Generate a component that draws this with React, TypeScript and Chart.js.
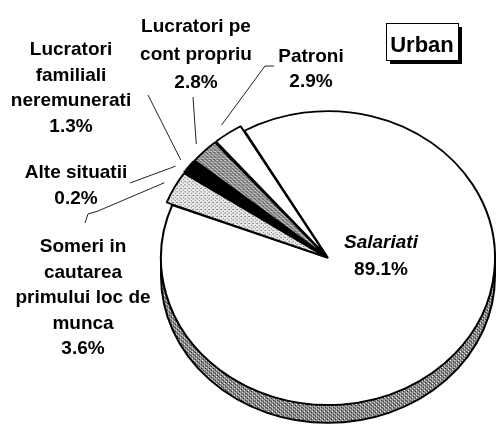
import React, { useEffect, useRef } from 'react';
import { Chart, ArcElement, PieController } from 'chart.js';

Chart.register(ArcElement, PieController);

// ---- data ----
const categories = [
  'Salariati',
  'Someri in cautarea primului loc de munca',
  'Alte situatii',
  'Lucratori familiali neremunerati',
  'Lucratori pe cont propriu',
  'Patroni',
];
const values = [89.1, 3.6, 0.2, 1.3, 2.8, 2.9];
const valueLabels = ['89.1%', '3.6%', '0.2%', '1.3%', '2.8%', '2.9%'];
const labelLines = [
  ['Salariati'],
  ['Someri in', 'cautarea', 'primului loc de', 'munca'],
  ['Alte situatii'],
  ['Lucratori', 'familiali', 'neremunerati'],
  ['Lucratori pe', 'cont propriu'],
  ['Patroni'],
];
const boxTitle = 'Urban';

// ---- layout (positions/styles) ----
const SY = 0.88; // vertical squash of the pie (tilted look)
const DEPTH = 18; // visible rim depth in px
const FONT = '"Liberation Sans", Arial, sans-serif';
const LABEL_POS = [
  { x: 381, y: 248, lh: 27, italic: true },
  { x: 83, y: 252, lh: 25.5 },
  { x: 76, y: 178, lh: 26 },
  { x: 71, y: 55, lh: 25.7 },
  { x: 196, y: 32, lh: 28 },
  { x: 311, y: 62, lh: 25 },
];
const LEADER_START: (number[][] | null)[] = [
  null,
  [[85, 223], [88, 214], [98, 211]],
  [[130, 183]],
  [[148, 95]],
  [[193, 97]],
  [[274, 66], [265, 66]],
];

function makePattern(ctx: CanvasRenderingContext2D, size: number, bg: string, dots: [number, number, string][]) {
  const c = document.createElement('canvas');
  c.width = size;
  c.height = size;
  const g = c.getContext('2d')!;
  g.fillStyle = bg;
  g.fillRect(0, 0, size, size);
  for (const [x, y, col] of dots) {
    g.fillStyle = col;
    g.fillRect(x, y, 1, 1);
  }
  return ctx.createPattern(c, 'repeat')!;
}

export default function App() {
  const ref = useRef<HTMLCanvasElement>(null);

  useEffect(() => {
    document.body.style.margin = '0';
    const canvas = ref.current!;
    const ctx0 = canvas.getContext('2d')!;
    const light = makePattern(ctx0, 4, '#e8e8e8', [[0, 0, '#666'], [2, 2, '#777'], [3, 0, '#aaa']]);
    const dark = makePattern(ctx0, 4, '#9a9a9a', [[0, 0, '#333'], [2, 2, '#333'], [1, 1, '#555'], [3, 1, '#fff'], [1, 3, '#fff']]);
    const band = makePattern(ctx0, 4, '#8e8e8e', [[0, 0, '#fff'], [2, 2, '#eee'], [1, 3, '#222'], [3, 1, '#222'], [2, 0, '#555']]);

    const colors = ['#ffffff', light, '#111111', '#000000', dark, '#ffffff'];
    const offsets = [0, 14, 14, 14, 14, 14];

    const shapePlugin = {
      id: 'shape3d',
      beforeDatasetsDraw(chart: any) {
        const ctx = chart.ctx as CanvasRenderingContext2D;
        const meta = chart.getDatasetMeta(0);
        const el = meta.data[0];
        const cx = el.x, cy = el.y;
        ctx.save();
        ctx.translate(cx, cy);
        ctx.scale(1, SY);
        ctx.translate(-cx, -cy);
        // rim (side) of the big slice
        const r = el.outerRadius;
        const d = DEPTH / SY;
        const a0 = Math.max(el.startAngle, 0);
        const a1 = Math.min(el.endAngle, Math.PI);
        if (a1 > a0) {
          ctx.beginPath();
          ctx.arc(cx, cy + d, r, a0, a1, false);
          ctx.arc(cx, cy, r, a1, a0, true);
          ctx.closePath();
          ctx.fillStyle = band;
          ctx.fill();
          ctx.lineWidth = 2;
          ctx.strokeStyle = '#000';
          ctx.stroke();
        }
      },
      afterDatasetsDraw(chart: any) {
        const ctx = chart.ctx as CanvasRenderingContext2D;
        ctx.restore();
        const meta = chart.getDatasetMeta(0);
        // leader lines
        ctx.save();
        ctx.strokeStyle = '#222';
        ctx.lineWidth = 1;
        meta.data.forEach((el: any, i: number) => {
          const st = LEADER_START[i];
          if (!st) return;
          const mid = (el.startAngle + el.endAngle) / 2;
          const off = offsets[i];
          const rr = el.outerRadius + off * 0.8 + 3;
          const ex = el.x + Math.cos(mid) * (rr + off / 4);
          const ey = el.y + Math.sin(mid) * (rr + off / 4) * SY;
          ctx.beginPath();
          ctx.moveTo(st[0][0], st[0][1]);
          for (let k = 1; k < st.length; k++) ctx.lineTo(st[k][0], st[k][1]);
          ctx.lineTo(ex, ey);
          ctx.stroke();
        });
        ctx.restore();
        // labels
        ctx.save();
        ctx.fillStyle = '#000';
        ctx.textAlign = 'center';
        ctx.textBaseline = 'alphabetic';
        labelLines.forEach((lines, i) => {
          const p = LABEL_POS[i];
          const all = [...lines, valueLabels[i]];
          all.forEach((t, k) => {
            const it = p.italic && k < lines.length;
            ctx.font = `${it ? 'italic ' : ''}bold 19px ${FONT}`;
            ctx.fillText(t, p.x, p.y + k * p.lh);
          });
        });
        // title box
        const bx = 386, by = 23, bw = 72, bh = 37;
        ctx.fillStyle = '#000';
        ctx.fillRect(bx + 4, by + 4, bw, bh);
        ctx.fillStyle = '#fff';
        ctx.fillRect(bx, by, bw, bh);
        ctx.strokeStyle = '#000';
        ctx.lineWidth = 1;
        ctx.strokeRect(bx + 0.5, by + 0.5, bw, bh);
        ctx.fillStyle = '#000';
        ctx.font = `bold 22px ${FONT}`;
        ctx.fillText(boxTitle, bx + bw / 2, by + 29);
        ctx.restore();
      },
    };

    const chart = new Chart(canvas, {
      type: 'pie',
      data: {
        labels: categories,
        datasets: [
          {
            data: values,
            backgroundColor: colors as any,
            borderColor: '#000',
            borderWidth: 2,
            offset: offsets,
            radius: 167,
            clip: false as any,
          } as any,
        ],
      },
      options: {
        responsive: false,
        animation: false,
        devicePixelRatio: 1,
        rotation: -30,
        events: [],
        layout: { padding: { left: 161, right: 1, top: 91, bottom: 5 } },
        plugins: { legend: { display: false }, tooltip: { enabled: false } },
      } as any,
      plugins: [shapePlugin],
    });
    return () => chart.destroy();
  }, []);

  return (
    <div style={{ position: 'absolute', left: 0, top: 0, width: 496, height: 430, background: '#fff' }}>
      <canvas ref={ref} width={496} height={430} style={{ width: 496, height: 430, display: 'block' }} />
    </div>
  );
}
